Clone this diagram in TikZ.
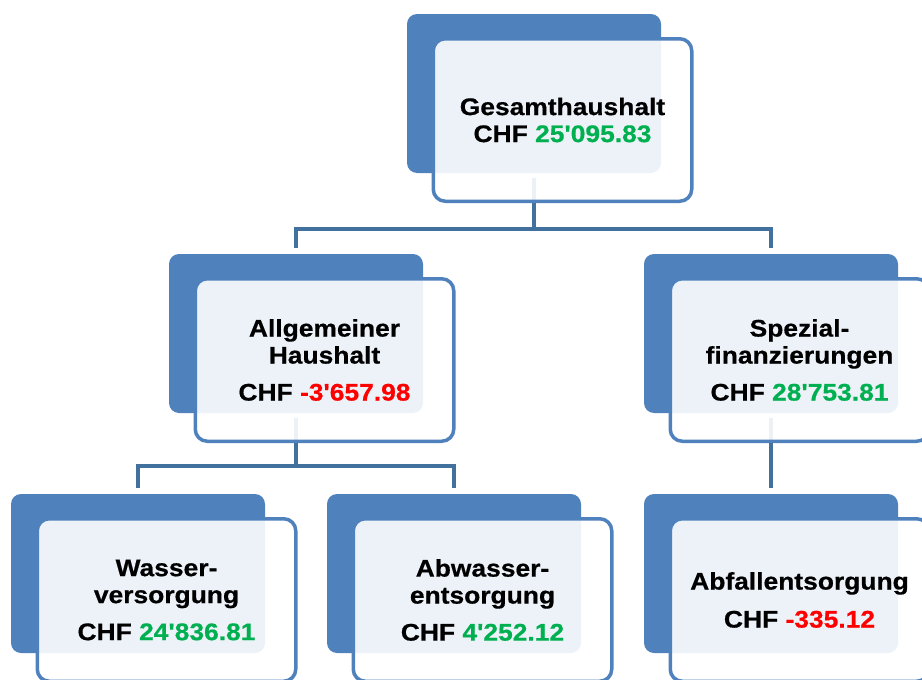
\documentclass[tikz,border=0pt]{standalone}
\usepackage{fontspec}
\newfontfamily\labfont{Liberation Sans}[FakeStretch=1.1,BoldFeatures={FakeBold=0.6}]
\definecolor{boxblue}{HTML}{4F81BD}
\definecolor{connblue}{HTML}{41719C}
\definecolor{posgreen}{HTML}{00B050}
\definecolor{negred}{HTML}{FF0000}
\tikzset{
  backbox/.style={draw=none, fill=boxblue, rounded corners=10pt,
    minimum width=254pt, minimum height=159pt, inner sep=0pt},
  frontbox/.style={draw=boxblue, line width=3.5pt, fill=white, fill opacity=0.9,
    text opacity=1, rounded corners=12pt, minimum width=258.5pt,
    minimum height=162.5pt, inner sep=0pt, align=center,
    font=\labfont\bfseries\fontsize{24}{27}\selectfont},
  conn/.style={draw=connblue, line width=4pt},
}
\newcommand{\pos}[1]{\textcolor{posgreen}{#1}}
\newcommand{\negv}[1]{\textcolor{negred}{#1}}
\begin{document}
\begin{tikzpicture}[x=1pt,y=-1pt]
\useasboundingbox (0,0) rectangle (922,680);
\clip (0,0) rectangle (922,680);
% back boxes
\node[backbox] (gB) at (534,93.5) {};
\node[backbox] (aB) at (296,333.5) {};
\node[backbox] (sB) at (771,333.5) {};
\node[backbox] (wB) at (138,573.5) {};
\node[backbox] (bB) at (454,573.5) {};
\node[backbox] (fB) at (771,573.5) {};
% connectors
\coordinate (bus1) at (534,229);
\coordinate (bus2) at (296,466);
\draw[conn] ([yshift=-5pt]gB.south) -- (bus1) -| ([yshift=6pt]aB.north);
\draw[conn] (bus1) -| ([yshift=6pt]sB.north);
\draw[conn] ([yshift=-5pt]aB.south) -- (bus2) -| ([yshift=6pt]wB.north);
\draw[conn] (bus2) -| ([yshift=6pt]bB.north);
\draw[conn] ([yshift=-5pt]sB.south) -- ([yshift=6pt]fB.north);
% front boxes
\node[frontbox] (g) at (562.5,120) {Gesamthaushalt\\CHF \pos{25'095.83}};
\node[frontbox] (a) at (324.5,360) {Allgemeiner\\Haushalt\\[10pt]CHF \negv{-3'657.98}};
\node[frontbox] (s) at (799.5,360) {Spezial-\\finanzierungen\\[10pt]CHF \pos{28'753.81}};
\node[frontbox] (w) at (166.5,600) {Wasser-\\versorgung\\[10pt]CHF \pos{24'836.81}};
\node[frontbox] (b) at (482.5,600) {Abwasser-\\entsorgung\\[10pt]CHF \pos{4'252.12}};
\node[frontbox] (f) at (799.5,600) {Abfallentsorgung\\[11pt]CHF \negv{-335.12}};
\end{tikzpicture}
\end{document}
